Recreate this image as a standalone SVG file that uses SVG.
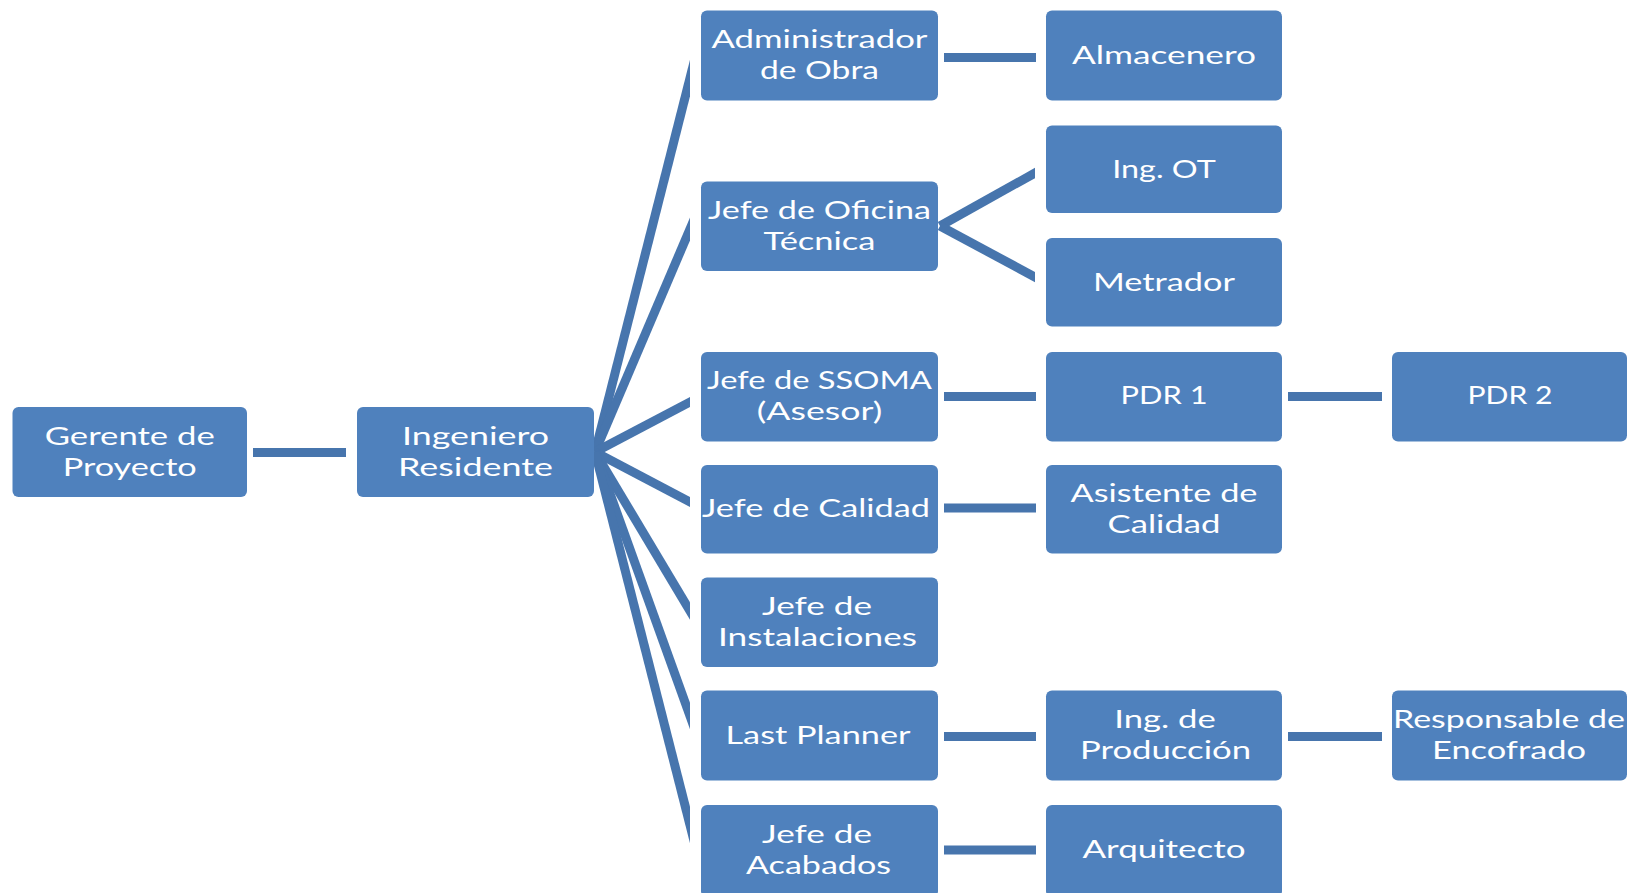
<svg xmlns="http://www.w3.org/2000/svg" width="1641" height="893" viewBox="0 0 1641 893">
<style>
.box{fill:#4f81bd;}
.t{font-family:Lato,"Open Sans","Liberation Sans",sans-serif;font-size:25.5px;fill:#ffffff;text-anchor:middle;}
.c{stroke:#4775ad;stroke-width:9;fill:none;stroke-linecap:butt;}
</style>
<defs>
<clipPath id="fanClip"><rect x="0" y="0" width="690" height="893"/></clipPath>
<clipPath id="brClip"><rect x="900" y="100" width="135" height="250"/></clipPath>
</defs>
<rect width="1641" height="893" fill="#ffffff"/>
<g id="connectors">
<line class="c" x1="253" y1="452.5" x2="346" y2="452.5"/>
<g clip-path="url(#fanClip)">
<line class="c" x1="595" y1="452" x2="700" y2="38.6"/>
<line class="c" x1="595" y1="452" x2="700" y2="205.5"/>
<line class="c" x1="595" y1="452" x2="700" y2="396.7"/>
<line class="c" x1="595" y1="452" x2="700" y2="507.3"/>
<line class="c" x1="595" y1="452" x2="700" y2="627.7"/>
<line class="c" x1="595" y1="452" x2="700" y2="743.8"/>
<line class="c" x1="595" y1="452" x2="700" y2="864.3"/>
</g>
<g clip-path="url(#brClip)">
<line class="c" x1="940" y1="226" x2="1045" y2="167.4"/>
<line class="c" x1="940" y1="226" x2="1045" y2="282.4"/>
</g>
<line class="c" x1="944" y1="57.5" x2="1036" y2="57.5"/>
<line class="c" x1="944" y1="396.5" x2="1036" y2="396.5"/>
<line class="c" x1="1288" y1="396.5" x2="1382" y2="396.5"/>
<line class="c" x1="944" y1="508" x2="1036" y2="508"/>
<line class="c" x1="944" y1="736.5" x2="1036" y2="736.5"/>
<line class="c" x1="1288" y1="736.5" x2="1382" y2="736.5"/>
<line class="c" x1="944" y1="850" x2="1036" y2="850"/>
</g>
<g id="gerente"><rect class="box" x="12.5" y="407" width="234.5" height="90" rx="6"/>
<text class="t" x="129.75" y="444.5" textLength="170" lengthAdjust="spacingAndGlyphs">Gerente de</text>
<text class="t" x="129.75" y="475.5" textLength="134" lengthAdjust="spacingAndGlyphs">Proyecto</text></g>
<g id="ingeniero"><rect class="box" x="357" y="407" width="237" height="90" rx="6"/>
<text class="t" x="475.5" y="444.5" textLength="147" lengthAdjust="spacingAndGlyphs">Ingeniero</text>
<text class="t" x="475.5" y="475.5" textLength="155" lengthAdjust="spacingAndGlyphs">Residente</text></g>
<g id="administrador"><rect class="box" x="701" y="10.5" width="237" height="90" rx="6"/>
<text class="t" x="819.5" y="48" textLength="216" lengthAdjust="spacingAndGlyphs">Administrador</text>
<text class="t" x="819.5" y="79" textLength="119" lengthAdjust="spacingAndGlyphs">de Obra</text></g>
<g id="almacenero"><rect class="box" x="1046" y="10.5" width="236" height="90" rx="6"/>
<text class="t" x="1164" y="63.5" textLength="184" lengthAdjust="spacingAndGlyphs">Almacenero</text></g>
<g id="oficina"><rect class="box" x="701" y="181.5" width="237" height="89.5" rx="6"/>
<text class="t" x="819.5" y="218.5" textLength="223" lengthAdjust="spacingAndGlyphs">Jefe de Oficina</text>
<text class="t" x="819.5" y="249.5" textLength="112" lengthAdjust="spacingAndGlyphs">Técnica</text></g>
<g id="ingot"><rect class="box" x="1046" y="125.5" width="236" height="87.5" rx="6"/>
<text class="t" x="1164" y="177.5" textLength="103.5" lengthAdjust="spacingAndGlyphs">Ing. OT</text></g>
<g id="metrador"><rect class="box" x="1046" y="238" width="236" height="88.5" rx="6"/>
<text class="t" x="1164" y="290.5" textLength="142" lengthAdjust="spacingAndGlyphs">Metrador</text></g>
<g id="ssoma"><rect class="box" x="701" y="352" width="237" height="89.5" rx="6"/>
<text class="t" x="819.5" y="389" textLength="225" lengthAdjust="spacingAndGlyphs">Jefe de SSOMA</text>
<text class="t" x="819.5" y="419.5" textLength="125.5" lengthAdjust="spacingAndGlyphs">(Asesor)</text></g>
<g id="pdr1"><rect class="box" x="1046" y="352" width="236" height="89.5" rx="6"/>
<text class="t" x="1164" y="404" textLength="87" lengthAdjust="spacingAndGlyphs">PDR 1</text></g>
<g id="pdr2"><rect class="box" x="1392" y="352" width="235" height="89.5" rx="6"/>
<text class="t" x="1510" y="404" textLength="85" lengthAdjust="spacingAndGlyphs">PDR 2</text></g>
<g id="calidad"><rect class="box" x="701" y="465" width="237" height="88.5" rx="6"/>
<text class="t" x="816" y="517" textLength="228" lengthAdjust="spacingAndGlyphs">Jefe de Calidad</text></g>
<g id="asistente"><rect class="box" x="1046" y="465" width="236" height="88.5" rx="6"/>
<text class="t" x="1164" y="502" textLength="187" lengthAdjust="spacingAndGlyphs">Asistente de</text>
<text class="t" x="1164" y="533" textLength="113" lengthAdjust="spacingAndGlyphs">Calidad</text></g>
<g id="instalaciones"><rect class="box" x="701" y="577.5" width="237" height="89.5" rx="6"/>
<text class="t" x="817" y="614.5" textLength="110" lengthAdjust="spacingAndGlyphs">Jefe de</text>
<text class="t" x="817.5" y="645.5" textLength="199" lengthAdjust="spacingAndGlyphs">Instalaciones</text></g>
<g id="lastplanner"><rect class="box" x="701" y="690.5" width="237" height="90" rx="6"/>
<text class="t" x="818" y="743.5" textLength="185" lengthAdjust="spacingAndGlyphs">Last Planner</text></g>
<g id="ingproduccion"><rect class="box" x="1046" y="690.5" width="236" height="90" rx="6"/>
<text class="t" x="1165" y="728" textLength="101.5" lengthAdjust="spacingAndGlyphs">Ing. de</text>
<text class="t" x="1165.5" y="759" textLength="171" lengthAdjust="spacingAndGlyphs">Producción</text></g>
<g id="responsable"><rect class="box" x="1392" y="690.5" width="235" height="90" rx="6"/>
<text class="t" x="1509" y="728" textLength="232" lengthAdjust="spacingAndGlyphs">Responsable de</text>
<text class="t" x="1509" y="759" textLength="154" lengthAdjust="spacingAndGlyphs">Encofrado</text></g>
<g id="acabados"><rect class="box" x="701" y="805" width="237" height="92" rx="6"/>
<text class="t" x="817" y="842.5" textLength="110" lengthAdjust="spacingAndGlyphs">Jefe de</text>
<text class="t" x="818.5" y="873.5" textLength="145" lengthAdjust="spacingAndGlyphs">Acabados</text></g>
<g id="arquitecto"><rect class="box" x="1046" y="805" width="236" height="92" rx="6"/>
<text class="t" x="1164" y="858" textLength="163" lengthAdjust="spacingAndGlyphs">Arquitecto</text></g>
</svg>
